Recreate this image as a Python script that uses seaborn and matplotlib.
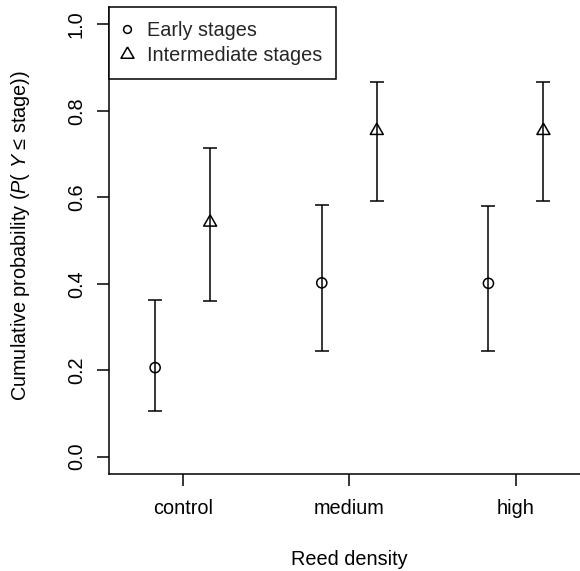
import numpy as np
import pandas as pd
import matplotlib
matplotlib.use('Agg')
import matplotlib.pyplot as plt
from matplotlib.lines import Line2D
import seaborn as sns

# Estimated cumulative probabilities with lower / upper interval bounds
densities = ['control', 'medium', 'high']
stages = ['Early stages', 'Intermediate stages']
early_est = [0.206, 0.402, 0.401]
early_lo = [0.106, 0.244, 0.245]
early_hi = [0.362, 0.582, 0.580]
inter_est = [0.542, 0.754, 0.754]
inter_lo = [0.360, 0.591, 0.591]
inter_hi = [0.714, 0.867, 0.866]

sns.set_style('ticks')
plt.rcParams['font.family'] = ['Liberation Sans', 'DejaVu Sans']
plt.rcParams['mathtext.fontset'] = 'custom'
plt.rcParams['mathtext.it'] = 'Liberation Sans:italic'
plt.rcParams['mathtext.rm'] = 'Liberation Sans'

df = pd.DataFrame({
    'density': densities * 2,
    'stage': [stages[0]] * 3 + [stages[1]] * 3,
    'est': early_est + inter_est,
    'lo': early_lo + inter_lo,
    'hi': early_hi + inter_hi,
})
# dodge the two stages around each density category
dodge = {stages[0]: -0.165, stages[1]: 0.165}
df['xpos'] = df['density'].map({d: i + 1 for i, d in enumerate(densities)}) + df['stage'].map(dodge)

# R-like open triangle (centroid at the data point)
tri = [(0, 1), (-0.866, -0.5), (0.866, -0.5), (0, 1)]
markers = {stages[0]: 'o', stages[1]: tri}
sizes = {stages[0]: 7.3, stages[1]: 10.8}
leg_sizes = {stages[0]: 5.6, stages[1]: 10.8}

fs = 14.3
lw = 1.1

fig = plt.figure(figsize=(5.8, 5.71), dpi=100)
ax = fig.add_axes([0.1879, 0.1699, 0.8286, 0.8178])

for st in stages:
    sub = df[df['stage'] == st]
    ax.errorbar(sub['xpos'], sub['est'],
                yerr=[sub['est'] - sub['lo'], sub['hi'] - sub['est']],
                fmt='none', ecolor='black', elinewidth=lw,
                capsize=4.7, capthick=lw, zorder=2)
    sns.scatterplot(data=sub, x='xpos', y='est', marker=markers[st],
                    s=sizes[st] ** 2, facecolors='none', edgecolor='black',
                    linewidth=lw, ax=ax, zorder=3, legend=False)

ax.set_xlim(0.558, 3.442)
ax.set_ylim(-0.04, 1.04)
ax.set_xticks([1, 2, 3])
ax.set_xticklabels(densities)
ax.set_yticks([0.0, 0.2, 0.4, 0.6, 0.8, 1.0])
ax.set_yticklabels(['0.0', '0.2', '0.4', '0.6', '0.8', '1.0'], rotation=90, va='center')
ax.tick_params(axis='both', length=8.6, width=lw, color='black', labelsize=fs, labelcolor='black')
ax.tick_params(axis='x', pad=9.5)
ax.tick_params(axis='y', pad=8)

sns.despine(ax=ax)
for sp in ['left', 'bottom']:
    ax.spines[sp].set_linewidth(lw)
    ax.spines[sp].set_color('black')

ax.set_xlabel('Reed density', fontsize=fs, color='black')
ax.set_ylabel('Cumulative probability ($\\mathit{P}$( $\\mathit{Y}$ \u2264 stage))', fontsize=fs, color='black')
ax.xaxis.label.set_verticalalignment('center')
ax.yaxis.label.set_verticalalignment('center')
ax.xaxis.set_label_coords(0.5, -0.184)
ax.yaxis.set_label_coords(-0.1847, 0.51)

handles = [Line2D([], [], linestyle='none', marker=markers[st], markersize=leg_sizes[st],
                  markerfacecolor='none', markeredgecolor='black', markeredgewidth=lw)
           for st in stages]
leg = ax.legend(handles, stages, loc='upper left', bbox_to_anchor=(0, 1),
                borderaxespad=0, fancybox=False, framealpha=1, edgecolor='black',
                fontsize=fs, handlelength=0.4, handletextpad=0.8,
                labelspacing=0.3, borderpad=0.7)
leg.get_frame().set_linewidth(lw)

fig.savefig('out.png', dpi=100)
